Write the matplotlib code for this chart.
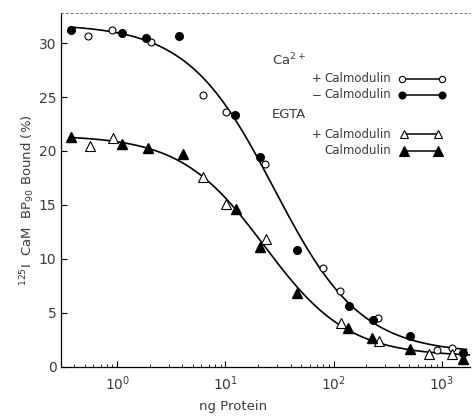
import matplotlib
matplotlib.use("Agg")
import matplotlib.pyplot as plt
import numpy as np
from matplotlib.lines import Line2D
from matplotlib.ticker import LogLocator, NullFormatter

# Ca2+, + calmodulin (open circles)
ca_plus_x = [0.54, 0.89, 2.05, 6.2, 10.2, 23.3, 80, 115, 258, 906, 1260]
ca_plus_y = [30.7, 31.2, 30.1, 25.2, 23.6, 18.8, 9.1, 7.0, 4.5, 1.5, 1.7]
# Ca2+, - calmodulin (filled circles)
ca_minus_x = [0.37, 1.10, 1.84, 3.7, 12.2, 20.8, 46, 139, 232, 509, 1560]
ca_minus_y = [31.2, 30.9, 30.5, 30.7, 23.3, 19.4, 10.8, 5.6, 4.3, 2.8, 1.25]
# EGTA, + calmodulin (open triangles)
egta_plus_x = [0.56, 0.91, 6.2, 10.2, 23.8, 117, 264, 763, 1260]
egta_plus_y = [20.5, 21.2, 17.6, 15.1, 11.8, 4.0, 2.4, 1.2, 1.2]
# EGTA, - calmodulin (filled triangles)
egta_minus_x = [0.37, 1.10, 1.92, 4.05, 12.5, 20.8, 46, 136, 227, 509, 1560]
egta_minus_y = [21.3, 20.6, 20.3, 19.7, 14.6, 11.1, 6.8, 3.6, 2.6, 1.6, 0.65]

y_ticks = [0, 5, 10, 15, 20, 25, 30]

W, H = 473, 416
TXT = "#3a3a3a"


def hill_fit(x, y):
    # least squares fit of y = bottom + (top - bottom) / (1 + (x/c)^n)
    lx = np.log10(np.asarray(x, float))
    y = np.asarray(y, float)
    best = None
    for c in np.arange(0.3, 2.5, 0.01):
        for n in np.arange(0.5, 2.5, 0.02):
            f = 1.0 / (1.0 + 10 ** (n * (lx - c)))
            A = np.column_stack([1 - f, f])
            coef = np.linalg.lstsq(A, y, rcond=None)[0]
            err = np.sum((A @ coef - y) ** 2)
            if best is None or err < best[0]:
                best = (err, c, n, coef)
    _, c, n, (bot, top) = best
    return lambda xx: bot + (top - bot) / (1 + (np.asarray(xx) / 10 ** c) ** n)


def fx(px):
    return px / W


def fy(py):
    return 1 - py / H


fig = plt.figure(figsize=(W / 100, H / 100), dpi=100)
ax = fig.add_axes([fx(60.7), fy(366.5), fx(470) - fx(60.7), fy(13) - fy(366.5)])

ca_x = ca_plus_x + ca_minus_x
ca_y = ca_plus_y + ca_minus_y
eg_x = egta_plus_x + egta_minus_x
eg_y = egta_plus_y + egta_minus_y

xs = np.logspace(np.log10(min(ca_x)), np.log10(1700), 300)
ax.plot(xs, hill_fit(ca_x, ca_y)(xs), color="k", lw=1.2, zorder=2)
xs = np.logspace(np.log10(min(eg_x)), np.log10(1800), 300)
ax.plot(xs, hill_fit(eg_x, eg_y)(xs), color="k", lw=1.2, zorder=2)

ax.plot(ca_plus_x, ca_plus_y, "o", ms=5, mfc="white", mec="k", mew=0.8, ls="none", zorder=3)
ax.plot(ca_minus_x, ca_minus_y, "o", ms=5.5, mfc="k", mec="k", ls="none", zorder=3)
ax.plot(egta_plus_x, egta_plus_y, "^", ms=6.5, mfc="white", mec="k", mew=0.8, ls="none", zorder=3)
ax.plot(egta_minus_x, egta_minus_y, "^", ms=7, mfc="k", mec="k", ls="none", zorder=3)

ax.set_xscale("log")
ax.set_xlim(0.299, 1830)
ax.set_ylim(0, 32.8)
ax.set_yticks(y_ticks)
ax.xaxis.set_major_locator(LogLocator(base=10, numticks=10))
ax.xaxis.set_minor_locator(LogLocator(base=10, subs=np.arange(2, 10), numticks=20))
ax.xaxis.set_minor_formatter(NullFormatter())
ax.tick_params(which="major", direction="in", length=4, width=0.8, labelsize=10,
               labelcolor=TXT, pad=6)
ax.tick_params(which="minor", direction="in", length=2.5, width=0.6)
ax.tick_params(axis="y", pad=3)

ax.spines["right"].set_visible(False)
ax.spines["top"].set_linestyle((0, (2, 3)))
ax.spines["top"].set_color("#777777")
ax.spines["top"].set_linewidth(0.7)
for s in ["left", "bottom"]:
    ax.spines[s].set_linewidth(0.9)

ax.set_xlabel("ng Protein", fontsize=9.5, color=TXT)
ax.xaxis.set_label_coords(0.42, -0.095)
ax.set_ylabel(r"$^{125}$I  CaM  BP$_{90}$ Bound (%)", fontsize=9.5, color=TXT)
ax.yaxis.set_label_coords(-0.058, 0.47)

# legend block
fs = 8.5
fig.text(fx(272), fy(60), r"Ca$^{2+}$", fontsize=9.5, color=TXT, va="center")
fig.text(fx(312), fy(79), "+", fontsize=fs, color=TXT, va="center")
fig.text(fx(324), fy(79), "Calmodulin", fontsize=fs, color=TXT, va="center")
fig.text(fx(312), fy(95), "\u2212", fontsize=fs, color=TXT, va="center")
fig.text(fx(324), fy(95), "Calmodulin", fontsize=fs, color=TXT, va="center")
fig.text(fx(272), fy(114), "EGTA", fontsize=9.5, color=TXT, va="center")
fig.text(fx(312), fy(134), "+", fontsize=fs, color=TXT, va="center")
fig.text(fx(324), fy(134), "Calmodulin", fontsize=fs, color=TXT, va="center")
fig.text(fx(324), fy(151), "Calmodulin", fontsize=fs, color=TXT, va="center")

samples = [
    (402, 442, 79, "o", "white", 4.5),
    (402, 442, 95, "o", "k", 5),
    (404, 438, 134, "^", "white", 6),
    (404, 438, 151, "^", "k", 6.5),
]
for x0, x1, yy, m, fc, ms in samples:
    fig.add_artist(Line2D([fx(x0), fx(x1)], [fy(yy), fy(yy)], transform=fig.transFigure,
                          color="k", lw=1.1, marker=m, ms=ms, mfc=fc, mec="k", mew=0.8))

fig.savefig("out.png", dpi=100)
